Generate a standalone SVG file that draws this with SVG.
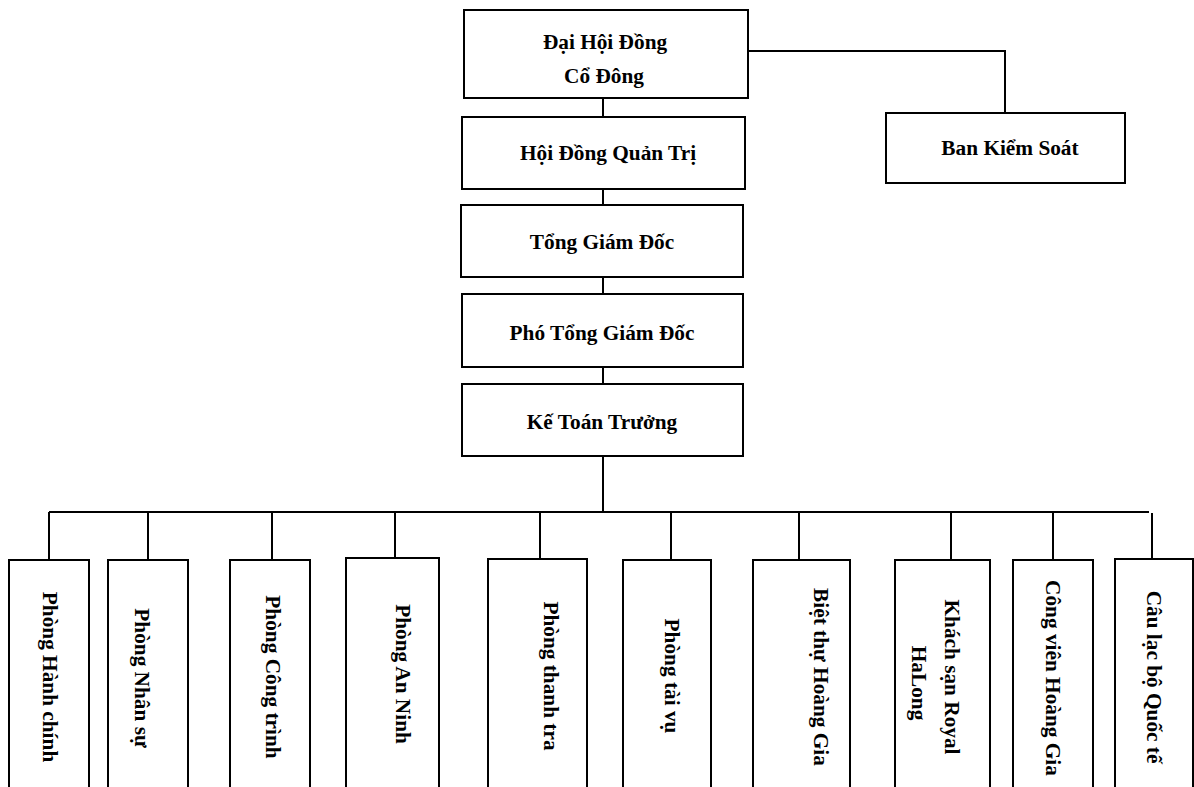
<svg xmlns="http://www.w3.org/2000/svg" width="1194" height="787" viewBox="0 0 1194 787">
<style>
.box{fill:#fff;stroke:#000;stroke-width:2}
.conn{fill:none;stroke:#000;stroke-width:2}
.lbl{font-family:'Liberation Serif','Times New Roman',serif;font-weight:bold;font-size:21.3px;fill:#000;text-anchor:middle}
</style>
<rect width="1194" height="787" fill="#fff"/>
<g id="connectors">
<path class="conn" d="M603 98V117M603 189V205M603 277V294M603 367V384M748 51H1005V113M603 456V512M49 512H1149"/>
<path class="conn" d="M49 512V560M148 512V560M272 512V560M395 512V558M540 512V559M671 512V560M799 512V560M951 512V560M1053 512V560M1152 513V559"/>
</g>
<g id="dhdcd">
<rect class="box" x="464" y="10" width="284" height="88"/>
<text class="lbl" x="605" y="49">Đại Hội Đồng</text>
<text class="lbl" x="604" y="83">Cổ Đông</text>
</g>
<g id="hdqt">
<rect class="box" x="462" y="117" width="283" height="72"/>
<text class="lbl" x="608" y="160">Hội Đồng Quản Trị</text>
</g>
<g id="bks">
<rect class="box" x="886" y="113" width="239" height="70"/>
<text class="lbl" x="1010" y="155">Ban Kiểm Soát</text>
</g>
<g id="tgd">
<rect class="box" x="461" y="205" width="282" height="72"/>
<text class="lbl" x="602" y="249">Tổng Giám Đốc</text>
</g>
<g id="ptgd">
<rect class="box" x="462" y="294" width="281" height="73"/>
<text class="lbl" x="602" y="340">Phó Tổng Giám Đốc</text>
</g>
<g id="ktt">
<rect class="box" x="462" y="384" width="281" height="72"/>
<text class="lbl" x="602" y="429">Kế Toán Trưởng</text>
</g>
<g id="p1">
<rect class="box" x="9" y="560" width="80" height="240"/>
<text class="lbl" transform="translate(43,677) rotate(90)">Phòng Hành chính</text>
</g>
<g id="p2">
<rect class="box" x="108" y="560" width="80" height="240"/>
<text class="lbl" transform="translate(135,678) rotate(90)">Phòng Nhân sự</text>
</g>
<g id="p3">
<rect class="box" x="230" y="560" width="80" height="240"/>
<text class="lbl" transform="translate(266,677) rotate(90)">Phòng Công trình</text>
</g>
<g id="p4">
<rect class="box" x="346" y="558" width="93" height="242"/>
<text class="lbl" transform="translate(396,674) rotate(90)">Phòng An Ninh</text>
</g>
<g id="p5">
<rect class="box" x="488" y="559" width="99" height="241"/>
<text class="lbl" transform="translate(544,676) rotate(90)">Phòng thanh tra</text>
</g>
<g id="p6">
<rect class="box" x="623" y="560" width="88" height="240"/>
<text class="lbl" transform="translate(665,676) rotate(90)">Phòng tài vụ</text>
</g>
<g id="p7">
<rect class="box" x="753" y="560" width="97" height="240"/>
<text class="lbl" transform="translate(814,677) rotate(90)">Biệt thự Hoàng Gia</text>
</g>
<g id="p8">
<rect class="box" x="895" y="560" width="95" height="240"/>
<text class="lbl" transform="translate(945,677) rotate(90)">Khách sạn Royal</text>
<text class="lbl" transform="translate(912,683) rotate(90)">HaLong</text>
</g>
<g id="p9">
<rect class="box" x="1013" y="560" width="80" height="240"/>
<text class="lbl" transform="translate(1046,678) rotate(90)">Công viên Hoàng Gia</text>
</g>
<g id="p10">
<rect class="box" x="1115" y="559" width="78" height="241"/>
<text class="lbl" transform="translate(1147,677) rotate(90)">Câu lạc bộ Quốc tế</text>
</g>
</svg>
